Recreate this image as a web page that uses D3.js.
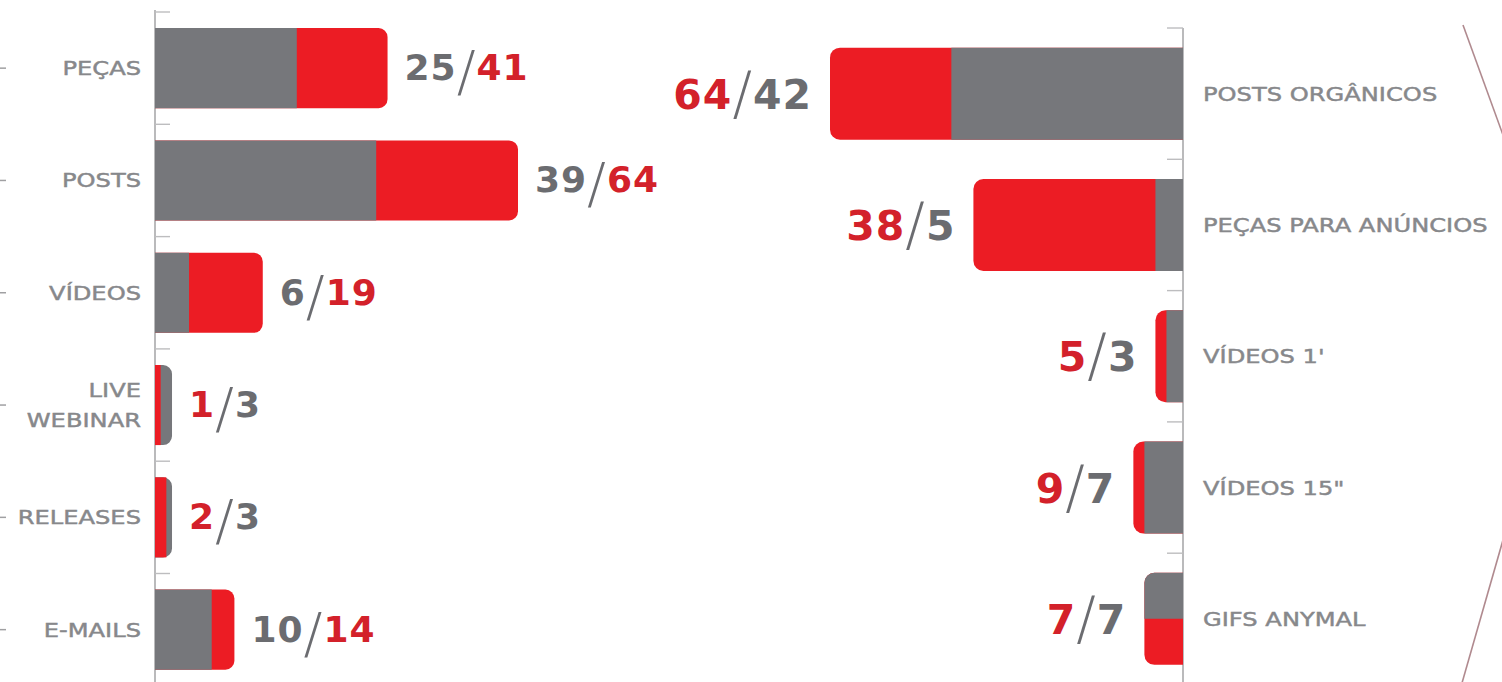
<!DOCTYPE html>
<html>
<head>
<meta charset="utf-8">
<script src="https://cdn.jsdelivr.net/npm/d3@7/dist/d3.min.js"></script>
<style>
  html, body { margin: 0; padding: 0; background: #ffffff; }
  svg { display: block; }
</style>
</head>
<body>
<svg id="chart" width="1502" height="682"></svg>
<script>
// ---------- DATA ----------
const leftCategories = ["PEÇAS", "POSTS", "VÍDEOS", "LIVE\nWEBINAR", "RELEASES", "E-MAILS"];
const leftA = [41, 64, 19, 1, 2, 14];      // series A (red)
const leftB = [25, 39, 6, 3, 3, 10];       // series B (gray)
const leftFirst = ["B", "B", "B", "A", "A", "B"]; // which series is written first in the label

const rightCategories = ["POSTS ORGÂNICOS", "PEÇAS PARA ANÚNCIOS", "VÍDEOS 1'", "VÍDEOS 15\"", "GIFS ANYMAL"];
const rightA = [64, 38, 5, 9, 7];          // series A (red)
const rightB = [42, 5, 3, 7, 7];           // series B (gray)
const rightFirst = ["A", "A", "A", "A", "A"];

const valueDomain = [0, 64];

// ---------- STYLE ----------
const colors = { A: "#ec1c24", B: "#76777b" };
const textColors = { A: "#d3212a", B: "#6b6c70" };
const labelColor = "#87888b";
const axisColor = "#a9a9ab";

const svg = d3.select("#chart");

function barPath(x0, x1, y, h, rTop, rBot) {
  const dir = x1 >= x0 ? 1 : -1;
  const w = Math.abs(x1 - x0);
  rTop = Math.min(rTop, w, h / 2);
  rBot = Math.min(rBot, w, h / 2);
  const sweep = dir > 0 ? 1 : 0;
  let p = `M${x0},${y}`;
  p += `L${x1 - dir * rTop},${y}`;
  if (rTop > 0) p += `A${rTop},${rTop} 0 0 ${sweep} ${x1},${y + rTop}`;
  p += `L${x1},${y + h - rBot}`;
  if (rBot > 0) p += `A${rBot},${rBot} 0 0 ${sweep} ${x1 - dir * rBot},${y + h}`;
  p += `L${x0},${y + h}Z`;
  return p;
}

function drawChart(cfg) {
  const { cats, A, B, first, x, y, side, radius, labelFont, labelScale, labelOffset,
          valueFont, slashFont, slashDy, valueOffset, valueBaseline, axisTop, tickLen, lineGap } = cfg;
  const g = svg.append("g");
  const x0 = x(0);
  const step = y.step();
  const padHalf = (step - y.bandwidth()) / 2;

  // axis line
  g.append("line")
    .attr("x1", x0).attr("x2", x0)
    .attr("y1", axisTop).attr("y2", 682)
    .attr("stroke", axisColor).attr("stroke-width", 1.6);

  // ticks at band boundaries
  g.selectAll(".tick").data(cats).enter().append("line")
    .attr("x1", x0).attr("x2", x0 + (side === "left" ? tickLen : -tickLen))
    .attr("y1", d => y(d) - padHalf).attr("y2", d => y(d) - padHalf)
    .attr("stroke", "#bdbdbf").attr("stroke-width", 1.4);

  const rows = cats.map((c, i) => ({ c, a: A[i], b: B[i], first: first[i] }));

  rows.forEach(r => {
    const yt = y(r.c), h = y.bandwidth();
    if (r.a === r.b) {
      // equal values: split vertically (B on top, A below)
      g.append("path").attr("d", barPath(x0, x(r.a), yt, h, radius, radius)).attr("fill", colors.A);
      g.append("path").attr("d", barPath(x0, x(r.b), yt, h / 2, radius, 0)).attr("fill", colors.B);
    } else {
      const big = r.a > r.b ? "A" : "B";
      const small = big === "A" ? "B" : "A";
      const vBig = big === "A" ? r.a : r.b;
      const vSmall = big === "A" ? r.b : r.a;
      g.append("path").attr("d", barPath(x0, x(vBig), yt, h, radius, radius)).attr("fill", colors[big]);
      g.append("path").attr("d", barPath(x0, x(vSmall), yt, h, 0, 0)).attr("fill", colors[small]);
    }

    // category label
    const cy = yt + h / 2;
    const lines = r.c.split("\n");
    const lx = side === "left" ? x0 - labelOffset : x0 + labelOffset;
    const t = g.append("text")
      .attr("transform", `translate(${lx},${cy}) scale(${labelScale},1)`)
      .attr("text-anchor", side === "left" ? "end" : "start")
      .attr("font-family", "DejaVu Sans, sans-serif")
      .attr("font-size", labelFont)
      .attr("fill", labelColor)
      .attr("stroke", labelColor).attr("stroke-width", 0.45);
    lines.forEach((ln, k) => {
      t.append("tspan").attr("x", 0)
        .attr("y", 7 + (k - (lines.length - 1) / 2) * lineGap)
        .text(ln);
    });

    // value label
    const vEnd = x(Math.max(r.a, r.b));
    const second = r.first === "A" ? "B" : "A";
    const vx = side === "left" ? vEnd + valueOffset : vEnd - valueOffset;
    const vt = g.append("text")
      .attr("x", vx).attr("y", cy + valueBaseline)
      .attr("text-anchor", side === "left" ? "start" : "end")
      .attr("font-family", "DejaVu Sans, sans-serif")
      .attr("font-size", valueFont)
      .attr("font-weight", "bold")
      .attr("letter-spacing", 1);
    vt.append("tspan").attr("fill", textColors[r.first]).text(r.first === "A" ? r.a : r.b);
    vt.append("tspan").attr("fill", textColors.B).attr("font-weight", 300)
      .attr("font-size", slashFont).attr("dy", slashDy).attr("dx", 0).text("/");
    vt.append("tspan").attr("fill", textColors[second]).attr("dy", -slashDy).attr("dx", 0)
      .text(second === "A" ? r.a : r.b);
  });
}

// ---------- LEFT CHART ----------
const leftStep = 112.3;
const yL = d3.scaleBand().domain(leftCategories)
  .range([12, 12 + leftStep * leftCategories.length])
  .paddingInner(0.287).paddingOuter(0.1435);
const xL = d3.scaleLinear().domain(valueDomain).range([155, 518]);

drawChart({
  cats: leftCategories, A: leftA, B: leftB, first: leftFirst,
  x: xL, y: yL, side: "left", radius: 9,
  labelFont: 19.5, labelScale: 1.24, labelOffset: 14, lineGap: 30,
  valueFont: 36, slashFont: 56, slashDy: 10, valueOffset: 17, valueBaseline: 12,
  axisTop: 10, tickLen: 15
});

// ---------- RIGHT CHART ----------
const rightStep = 131.3;
const yR = d3.scaleBand().domain(rightCategories)
  .range([28, 28 + rightStep * rightCategories.length])
  .paddingInner(0.2993).paddingOuter(0.1497);
const xR = d3.scaleLinear().domain(valueDomain).range([1183, 830]);

drawChart({
  cats: rightCategories, A: rightA, B: rightB, first: rightFirst,
  x: xR, y: yR, side: "right", radius: 10,
  labelFont: 19.5, labelScale: 1.24, labelOffset: 20, lineGap: 30,
  valueFont: 41, slashFont: 58, slashDy: 5, valueOffset: 18, valueBaseline: 15,
  axisTop: 28, tickLen: 16
});

// ---------- decorative cut-off leaders ----------
leftCategories.forEach(c => {
  const cy = yL(c) + yL.bandwidth() / 2;
  svg.append("line").attr("x1", 0).attr("x2", 6).attr("y1", cy).attr("y2", cy)
    .attr("stroke", "#a0a0a2").attr("stroke-width", 1.5);
});
svg.append("line").attr("x1", 1463).attr("y1", 25).attr("x2", 1503).attr("y2", 135)
  .attr("stroke", "#b08a8f").attr("stroke-width", 1.6);
svg.append("line").attr("x1", 1462).attr("y1", 683).attr("x2", 1503).attr("y2", 540)
  .attr("stroke", "#b08a8f").attr("stroke-width", 1.6);
</script>
</body>
</html>
